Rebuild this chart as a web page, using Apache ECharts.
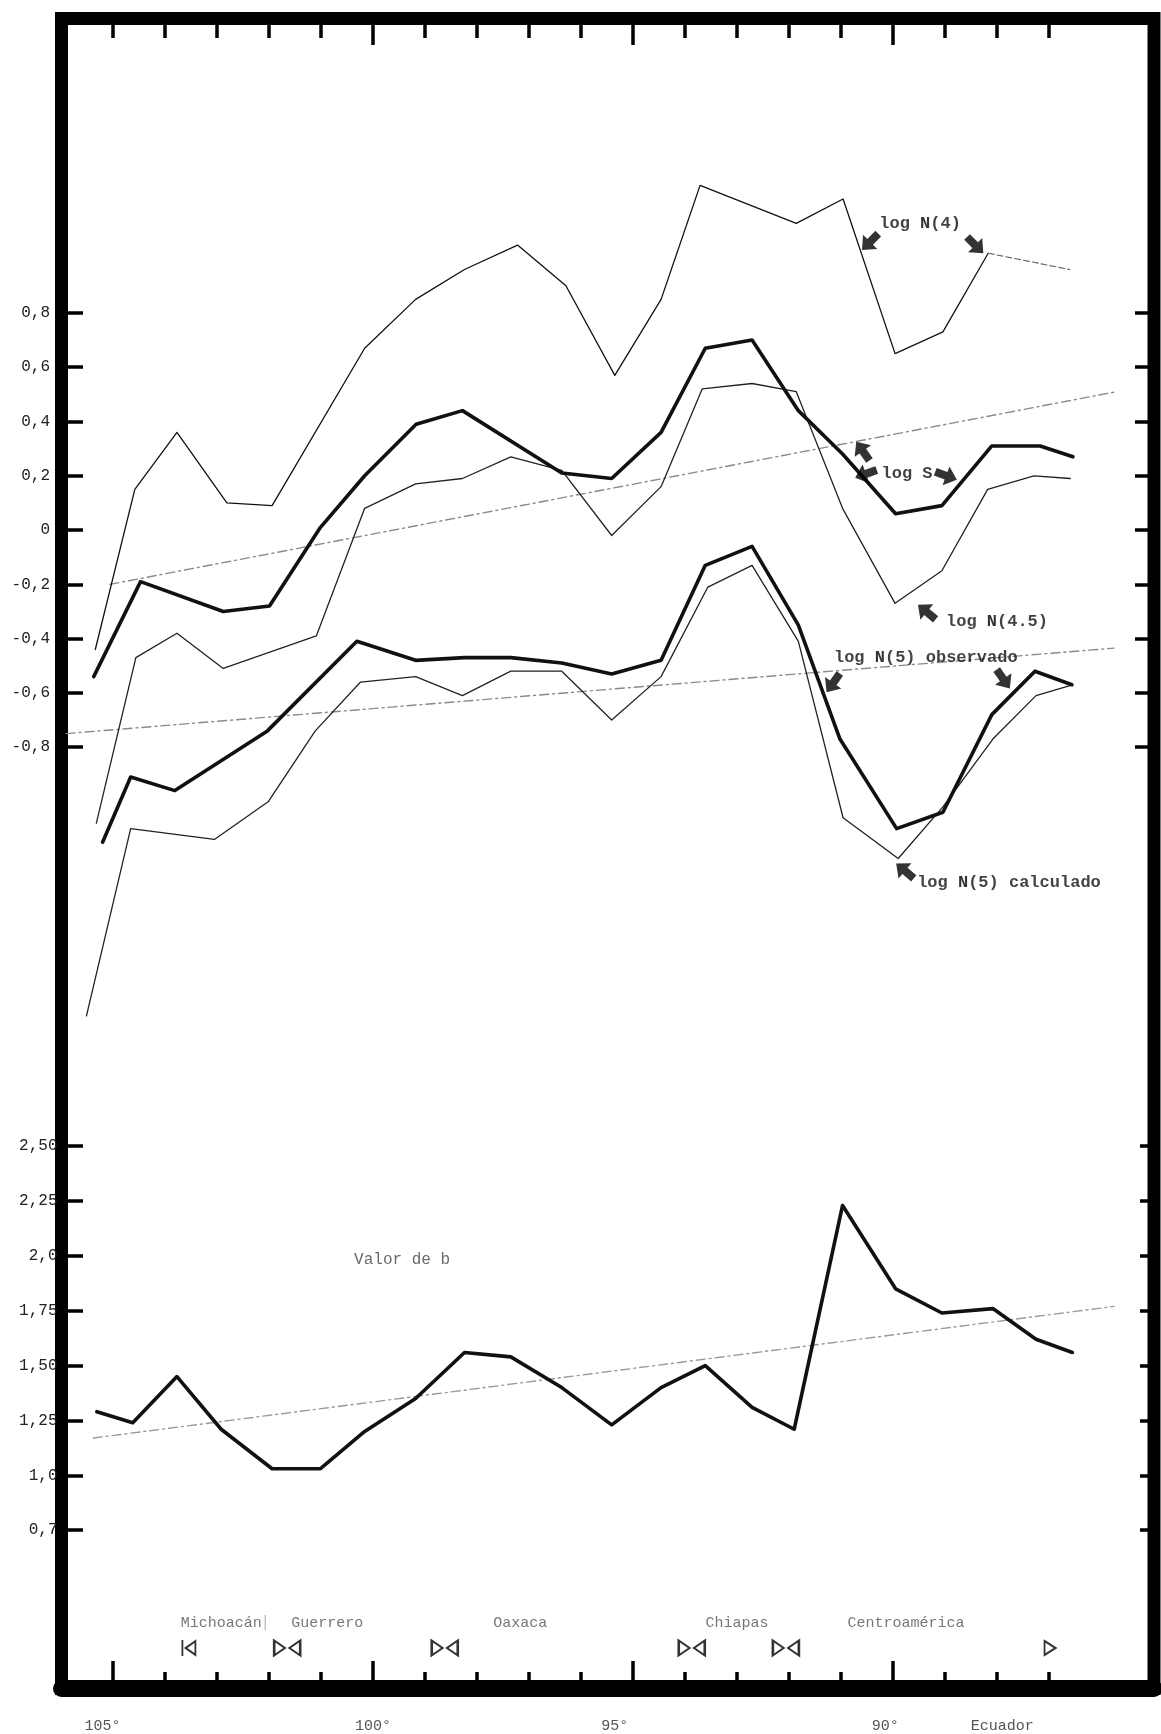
<!DOCTYPE html>
<html>
<head>
<meta charset="utf-8">
<script src="https://cdn.jsdelivr.net/npm/echarts@6/dist/echarts.min.js"></script>
<style>
  html, body { margin: 0; padding: 0; background: #fff; }
  #chart { width: 1161px; height: 1734px; }
</style>
</head>
<body>
<div id="chart"></div>
<script>
// ---- longitude axis (degrees W, decreasing to the right) ----
const lonTicks = [105, 104, 103, 102, 101, 100, 99, 98, 97, 96, 95, 94, 93, 92, 91, 90, 89, 88, 87];
const lonMajorBottom = [105, 100, 95, 90];
const lonMajorTop = [100, 95, 90];
const lonLabelAt = [105.2, 100.0, 95.35, 90.15, 87.9];
const lonLabelText = ['105°', '100°', '95°', '90°', 'Ecuador'];

// ---- vertical scales ----
const logTickValues = [0.8, 0.6, 0.4, 0.2, 0, -0.2, -0.4, -0.6, -0.8];
const logTickText = ['0,8', '0,6', '0,4', '0,2', '0', '-0,2', '-0,4', '-0,6', '-0,8'];
const bTickValues = [2.5, 2.25, 2.0, 1.75, 1.5, 1.25, 1.0, 0.75];
const bTickText = ['2,50', '2,25', '2,0', '1,75', '1,50', '1,25', '1,0', '0,7'];

// ---- log N(4) ----
const lonN4 = [105.34, 104.58, 103.77, 102.81, 101.94, 100.16, 99.18, 98.24, 97.22, 96.29, 95.35, 94.46, 93.71, 91.86, 90.96, 89.96, 89.04, 88.17];
const logN4 = [-0.44, 0.15, 0.36, 0.10, 0.09, 0.67, 0.85, 0.96, 1.05, 0.90, 0.57, 0.85, 1.27, 1.13, 1.22, 0.65, 0.73, 1.02];
const lonN4Tail = [88.17, 86.60];
const logN4Tail = [1.02, 0.96];

// ---- log S ----
const lonS = [105.37, 104.47, 102.88, 101.99, 101.01, 100.16, 99.17, 98.28, 96.37, 95.41, 94.46, 93.61, 92.71, 91.82, 90.97, 89.95, 89.06, 88.10, 87.17, 86.54];
const logS = [-0.54, -0.19, -0.30, -0.28, 0.01, 0.20, 0.39, 0.44, 0.21, 0.19, 0.36, 0.67, 0.70, 0.44, 0.28, 0.06, 0.09, 0.31, 0.31, 0.27];

// ---- log N(4.5) ----
const lonN45 = [105.32, 104.56, 103.77, 102.88, 101.09, 100.16, 99.18, 98.28, 97.35, 96.37, 95.41, 94.46, 93.67, 92.71, 91.86, 90.97, 89.96, 89.06, 88.18, 87.29, 86.59];
const logN45 = [-1.08, -0.47, -0.38, -0.51, -0.39, 0.08, 0.17, 0.19, 0.27, 0.22, -0.02, 0.16, 0.52, 0.54, 0.51, 0.08, -0.27, -0.15, 0.15, 0.20, 0.19];

// ---- log N(5) observado ----
const lonN5obs = [105.20, 104.66, 103.81, 102.03, 100.31, 99.18, 98.24, 97.35, 96.37, 95.41, 94.46, 93.61, 92.71, 91.82, 91.02, 89.93, 89.04, 88.10, 87.27, 86.56];
const logN5obs = [-1.15, -0.91, -0.96, -0.74, -0.41, -0.48, -0.47, -0.47, -0.49, -0.53, -0.48, -0.13, -0.06, -0.35, -0.77, -1.10, -1.04, -0.68, -0.52, -0.57];

// ---- log N(5) calculado ----
const lonN5calc = [105.51, 104.66, 103.05, 102.01, 101.11, 100.24, 99.18, 98.28, 97.35, 96.37, 95.41, 94.46, 93.56, 92.71, 91.82, 90.96, 89.90, 89.04, 88.08, 87.25, 86.55];
const logN5calc = [-1.79, -1.10, -1.14, -1.00, -0.74, -0.56, -0.54, -0.61, -0.52, -0.52, -0.70, -0.54, -0.21, -0.13, -0.41, -1.06, -1.21, -1.02, -0.77, -0.61, -0.57];

// ---- straight-line fits ----
const lonTrendS = [105.06, 85.70];
const trendS = [-0.20, 0.51];
const lonTrendN5 = [105.90, 85.75];
const trendN5 = [-0.75, -0.435];

// ---- valor de b ----
const lonB = [105.31, 104.62, 103.77, 102.92, 101.94, 101.01, 100.16, 99.18, 98.24, 97.35, 96.37, 95.41, 94.46, 93.61, 92.71, 91.90, 90.97, 89.95, 89.06, 88.08, 87.25, 86.55];
const valB = [1.29, 1.24, 1.45, 1.21, 1.03, 1.03, 1.20, 1.35, 1.56, 1.54, 1.40, 1.23, 1.40, 1.50, 1.31, 1.21, 2.23, 1.85, 1.74, 1.76, 1.62, 1.56];
const lonTrendB = [105.38, 85.75];
const trendB = [1.17, 1.77];

// ---- regions along the coast ----
const regionNames = ['Michoacán', 'Guerrero', 'Oaxaca', 'Chiapas', 'Centroamérica'];
const regionLon = [102.92, 100.88, 97.17, 93.0, 89.75];
const regionSeparatorLon = [102.07];
const boundaryLon = [103.54, 101.65, 98.62, 93.87, 92.06, 86.98];
const boundaryKind = ['start', 'join', 'join', 'join', 'join', 'end'];

// ---- curve labels and pointers ----
const noteText = ['log N(4)', 'log S', 'log N(4.5)', 'log N(5) observado', 'log N(5) calculado'];
const noteLon = [89.48, 89.73, 88.0, 89.37, 87.77];
const noteVal = [1.128, 0.207, -0.339, -0.471, -1.300];
const pointerLon = [90.44, 88.42, 90.58, 90.52, 88.98, 89.35, 91.15, 87.88, 89.77];
const pointerVal = [1.062, 1.050, 0.291, 0.207, 0.200, -0.302, -0.563, -0.549, -1.256];
const pointerAngle = [135, -135, 35, 110, -110, 50, 145, -145, 50];

// placement of the b-panel annotations, in b units
const regionLevel = 0.327;
const boundaryLevel = 0.213;
const bTitle = { text: 'Valor de b', lon: 99.44, val: 1.981 };

// ------------------------------------------------------------------
const pts = (xs, ys) => xs.map((x, i) => [x, ys[i]]);
const lookup = (vals, texts) => (v) => {
  const i = vals.findIndex(t => Math.abs(t - v) < 1e-6);
  return i < 0 ? '' : texts[i];
};

const MONO = '"Liberation Mono", "DejaVu Sans Mono", monospace';
const INK = '#111';

const LON_MIN = 84.981, LON_MAX = 105.990;
const LOG_MIN = -4.2684, LOG_MAX = 1.8849;
const B_MIN = 0.0284, B_MAX = 7.6400;

const tickStyle = { color: '#000', width: 3.5 };

function xAxisDef(pos, ticks, len, extra) {
  return Object.assign({
    type: 'value', position: pos, inverse: true, min: LON_MIN, max: LON_MAX,
    axisLine: { show: false, onZero: false }, splitLine: { show: false },
    axisTick: { show: true, inside: true, length: len, customValues: ticks, lineStyle: tickStyle },
    axisLabel: { show: false }
  }, extra || {});
}

function yAxisDef(pos, min, max, ticks, len, extra) {
  return Object.assign({
    type: 'value', position: pos, min: min, max: max,
    axisLine: { show: false, onZero: false }, splitLine: { show: false },
    axisTick: { show: true, inside: true, length: len, customValues: ticks, lineStyle: tickStyle },
    axisLabel: { show: false }
  }, extra || {});
}

const symbolJoin = 'path://M0,0 L10,6 L0,12 Z M24,0 L14,6 L24,12 Z';
const symbolStart = 'path://M0,0 L0,14 L0,0 Z M12,1 L3,7 L12,13 Z';
const symbolEnd = 'path://M0,0 L10,6 L0,12 Z';
const boundarySymbol = { start: [symbolStart, [13, 16]], join: [symbolJoin, [26, 15]], end: [symbolEnd, [11, 14]] };

const pointerPath = 'path://M10,0 L20,11 L14,11 L14,22 L6,22 L6,11 L0,11 Z';

function noteRich(text) {
  return text.split('N').map(p => p ? '{t|' + p + '}' : '').join('{n|N}');
}

function lineSeries(name, data, width, color, yIndex, dash) {
  return {
    name: name, type: 'line', data: data, xAxisIndex: 0, yAxisIndex: yIndex,
    symbol: 'none', silent: true, animation: false,
    lineStyle: { color: color, width: width, type: dash || 'solid', join: 'round', cap: 'round' },
    z: width > 2 ? 4 : 3
  };
}

function textSeries(yIndex, items, labelStyle) {
  return {
    type: 'scatter', xAxisIndex: 0, yAxisIndex: yIndex, silent: true, z: 6,
    symbol: 'circle', symbolSize: 0,
    data: items,
    label: Object.assign({ show: true, position: 'inside', formatter: p => p.name }, labelStyle)
  };
}

const chart = echarts.init(document.getElementById('chart'), null, { renderer: 'canvas' });

chart.setOption({
  backgroundColor: '#fff',
  animation: false,
  grid: {
    left: 61.5, right: 7, top: 18.5, bottom: 45.5,
    show: true, borderColor: '#000', borderWidth: 13, backgroundColor: 'transparent'
  },
  xAxis: [
    xAxisDef('bottom', lonTicks, 16.5, {
      axisLine: { show: true, onZero: false, lineStyle: { color: '#000', width: 17 } },
      axisLabel: {
        show: true, customValues: lonLabelAt, margin: 30,
        formatter: lookup(lonLabelAt, lonLabelText),
        fontFamily: MONO, fontSize: 15, color: '#555'
      }
    }),
    xAxisDef('bottom', lonMajorBottom, 27.5),
    xAxisDef('top', lonTicks, 19.5),
    xAxisDef('top', lonMajorTop, 26.5)
  ],
  yAxis: [
    yAxisDef('left', LOG_MIN, LOG_MAX, logTickValues, 21.5, {
      axisLabel: {
        show: true, customValues: logTickValues, margin: 11.5,
        formatter: lookup(logTickValues, logTickText),
        fontFamily: MONO, fontSize: 16, color: '#222'
      }
    }),
    yAxisDef('left', B_MIN, B_MAX, bTickValues, 21.5, {
      axisLabel: {
        show: true, customValues: bTickValues, margin: 4,
        formatter: lookup(bTickValues, bTickText),
        fontFamily: MONO, fontSize: 16, color: '#222'
      }
    }),
    yAxisDef('right', LOG_MIN, LOG_MAX, logTickValues, 19),
    yAxisDef('right', B_MIN, B_MAX, bTickValues, 14)
  ],
  series: [
    // fitted straight lines
    lineSeries('ajuste S', pts(lonTrendS, trendS), 1.4, '#8a8a8a', 0, [9, 4, 2, 4]),
    lineSeries('ajuste N5', pts(lonTrendN5, trendN5), 1.4, '#8a8a8a', 0, [9, 4, 2, 4]),
    lineSeries('ajuste b', pts(lonTrendB, trendB), 1.4, '#9a9a9a', 1, [9, 4, 2, 4]),
    // curves
    lineSeries('log N(4)', pts(lonN4, logN4), 1.3, INK, 0),
    lineSeries('log N(4) fin', pts(lonN4Tail, logN4Tail), 1.2, '#666', 0, [6, 3]),
    lineSeries('log S', pts(lonS, logS), 3.6, INK, 0),
    lineSeries('log N(4.5)', pts(lonN45, logN45), 1.3, '#222', 0),
    lineSeries('log N(5) observado', pts(lonN5obs, logN5obs), 3.6, INK, 0),
    lineSeries('log N(5) calculado', pts(lonN5calc, logN5calc), 1.3, '#222', 0),
    lineSeries('valor de b', pts(lonB, valB), 3.6, INK, 1),
    // curve names
    {
      type: 'scatter', xAxisIndex: 0, yAxisIndex: 0, silent: true, z: 6,
      symbol: 'circle', symbolSize: 0,
      data: noteText.map((t, i) => ({ value: [noteLon[i], noteVal[i]], name: t })),
      label: {
        show: true, position: 'inside',
        formatter: p => noteRich(p.name),
        rich: {
          t: { fontFamily: MONO, fontSize: 17, fontWeight: 'bold', color: INK },
          n: { fontFamily: MONO, fontSize: 17, fontWeight: 'bold', color: '#000' }
        }
      }
    },
    // pointers
    {
      type: 'scatter', xAxisIndex: 0, yAxisIndex: 0, silent: true, z: 6,
      symbol: pointerPath, symbolSize: [20, 23],
      itemStyle: { color: '#000' },
      data: pointerLon.map((x, i) => ({ value: [x, pointerVal[i]], symbolRotate: pointerAngle[i] }))
    },
    // b panel title
    textSeries(1, [{ value: [bTitle.lon, bTitle.val], name: bTitle.text }],
      { fontFamily: MONO, fontSize: 16, color: '#444' }),
    // region names
    textSeries(1, regionNames.map((t, i) => ({ value: [regionLon[i], regionLevel], name: t })),
      { fontFamily: MONO, fontSize: 15, color: '#555' }),
    // faint divider between Michoacán and Guerrero
    textSeries(1, regionSeparatorLon.map(x => ({ value: [x, regionLevel], name: '|' })),
      { fontFamily: MONO, fontSize: 16, color: '#aaa' }),
    // region boundaries
    {
      type: 'scatter', xAxisIndex: 0, yAxisIndex: 1, silent: true, z: 6,
      itemStyle: { color: '#fff', borderColor: '#000', borderWidth: 2 },
      data: boundaryLon.map((x, i) => ({
        value: [x, boundaryLevel],
        symbol: boundarySymbol[boundaryKind[i]][0],
        symbolSize: boundarySymbol[boundaryKind[i]][1]
      }))
    }
  ]
});
</script>
</body>
</html>
